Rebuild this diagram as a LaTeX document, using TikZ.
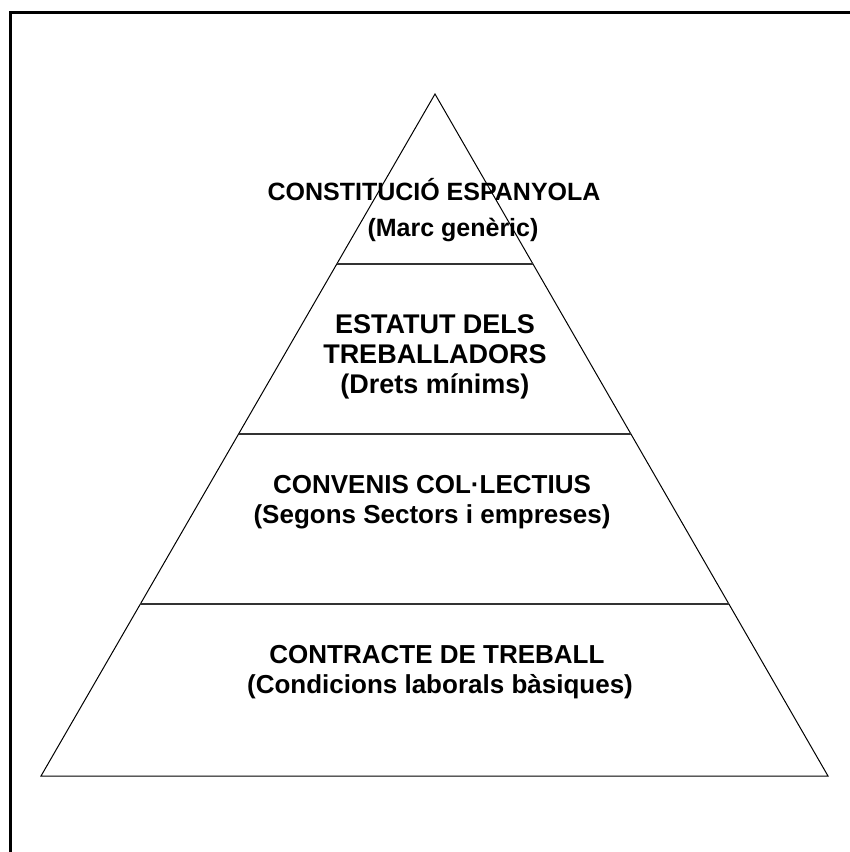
\documentclass[tikz,border=0pt]{standalone}
\usepackage{fontspec}
\setmainfont{Liberation Sans}
\usetikzlibrary{calc}
\begin{document}
\begin{tikzpicture}[x=1pt,y=-1pt,
  edge/.style={draw=black,line width=1pt},
  level/.style={draw=black!80,line width=1.8pt},
  lbl/.style={font=\fontsize{26}{30}\selectfont\bfseries,inner sep=0pt,anchor=base},
  lblA/.style={lbl,font=\fontsize{25}{30}\selectfont\bfseries},
  lblB/.style={lbl,font=\fontsize{27}{30}\selectfont\bfseries}]
\useasboundingbox (0,0) rectangle (850,852);
% frame
\draw[line width=3pt] (10,860) -- (10,12) -- (860,12);
% triangle
\coordinate (apex) at (435,94);
\coordinate (bl) at (41,776);
\coordinate (br) at (828,776);
\draw[edge,line join=miter] (apex) -- (bl) -- (br) -- cycle;
% levels
\coordinate (l1a) at ($(apex)!0.2493!(bl)$);
\coordinate (l1b) at ($(apex)!0.2493!(br)$);
\coordinate (l2a) at ($(apex)!0.4985!(bl)$);
\coordinate (l2b) at ($(apex)!0.4985!(br)$);
\coordinate (l3a) at ($(apex)!0.7478!(bl)$);
\coordinate (l3b) at ($(apex)!0.7478!(br)$);
\draw[level] (l1a) -- (l1b);
\draw[level] (l2a) -- (l2b);
\draw[level] (l3a) -- (l3b);
% texts
\node[lblA] (t1a) at (434,200) {CONSTITUCIÓ ESPANYOLA};
\node[lblA] (t1b) at (453,236) {(Marc genèric)};
\node[lblB] (t2a) at (435,333) {ESTATUT DELS};
\node[lblB] (t2b) at (435,363) {TREBALLADORS};
\node[lblB] (t2c) at (435,393) {(Drets mínims)};
\node[lbl] (t3a) at (432,493) {CONVENIS COL·LECTIUS};
\node[lbl] (t3b) at (432,523) {(Segons Sectors i empreses)};
\node[lbl] (t4a) at (437,663) {CONTRACTE DE TREBALL};
\node[lbl] (t4b) at (440,693) {(Condicions laborals bàsiques)};
\end{tikzpicture}
\end{document}
